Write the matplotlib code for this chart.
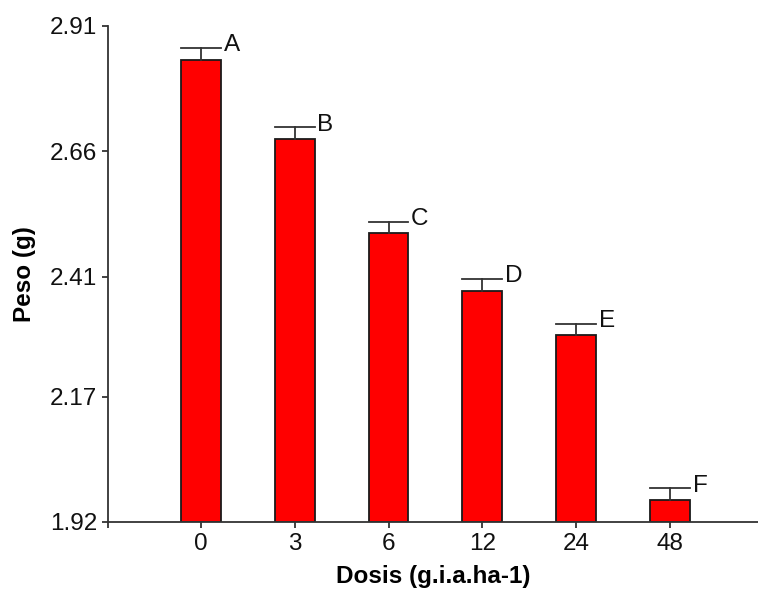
import matplotlib
matplotlib.use("Agg")
import matplotlib.pyplot as plt
import numpy as np

# Data
dosis = ["0", "3", "6", "12", "24", "48"]
peso = [2.842, 2.685, 2.496, 2.382, 2.293, 1.964]
error = [0.024, 0.023, 0.023, 0.023, 0.023, 0.023]
letras = ["A", "B", "C", "D", "E", "F"]
y_ticks = [1.92, 2.17, 2.41, 2.66, 2.91]

plt.rcParams["font.family"] = ["Liberation Sans", "DejaVu Sans"]

fig = plt.figure(figsize=(7.58, 5.90), dpi=100)
ax = fig.add_axes([108 / 758, 1 - 522 / 590, 1 - 108 / 758, (522 - 26) / 590])

x = np.arange(len(dosis))
ymin, ymax = 1.92, 2.91
width = 0.425
axis_color = "#333333"
lw = 1.3

ax.bar(x, np.array(peso) - ymin, bottom=ymin, width=width, color="#ff0000",
       edgecolor="#1a1a1a", linewidth=lw, zorder=2)

# upper-only error bars with caps as wide as the bars
for xi, v, e in zip(x, peso, error):
    ax.plot([xi, xi], [v, v + e], color=axis_color, lw=lw, zorder=3)
    ax.plot([xi - width / 2, xi + width / 2], [v + e, v + e],
            color=axis_color, lw=lw, zorder=3)

for xi, v, e, t in zip(x, peso, error, letras):
    ax.annotate(t, (xi + width / 2, v + e), xytext=(2, -6),
                textcoords="offset points", ha="left", va="bottom",
                fontsize=17.5, color="#111111")

ax.set_xlim(-0.991, 5.94)
ax.set_ylim(ymin, ymax)
ax.set_xticks(list(x) + [-0.991])
ax.set_xticklabels(dosis + [""])
ax.set_yticks(y_ticks)
ax.set_yticklabels([f"{v:.2f}" for v in y_ticks])

for side in ("top", "right"):
    ax.spines[side].set_visible(False)
for side in ("left", "bottom"):
    ax.spines[side].set_color(axis_color)
    ax.spines[side].set_linewidth(lw)

ax.tick_params(axis="both", direction="out", length=4, width=lw,
               color=axis_color, labelsize=17.5, labelcolor="#111111", pad=4)

ax.set_xlabel("Dosis (g.i.a.ha-1)", fontsize=17.5, fontweight="bold", labelpad=7)
ax.set_ylabel("Peso (g)", fontsize=17.5, fontweight="bold", labelpad=10)

fig.savefig("out.png", dpi=100)
